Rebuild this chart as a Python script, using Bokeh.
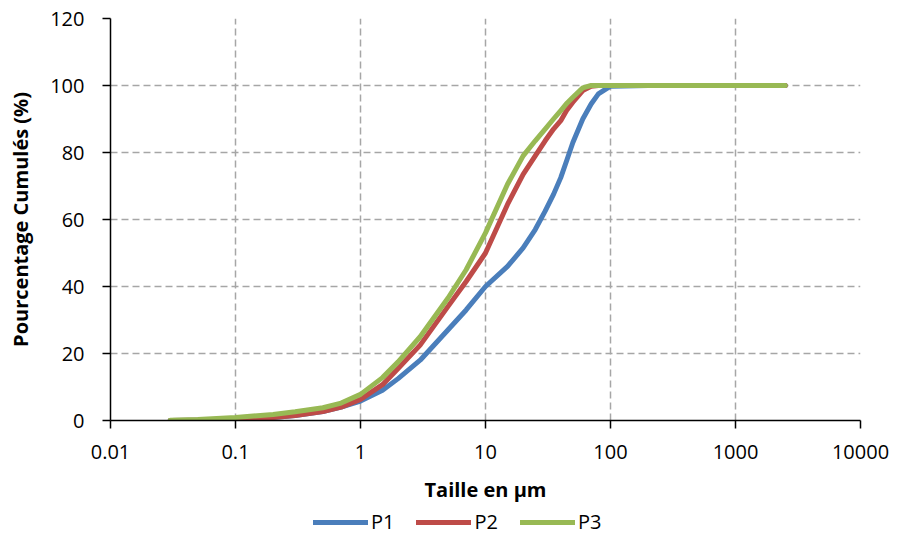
from bokeh.plotting import figure
from bokeh.models import Range1d, FixedTicker, Legend, LegendItem
from bokeh.layouts import column
from bokeh.embed import file_html
from bokeh.resources import INLINE

# Particle size (µm)
sizes = [0.03, 0.05, 0.1, 0.2, 0.3, 0.5, 0.7, 1, 1.5, 2, 3, 5, 7, 10, 15, 20, 25, 30,
         35, 40, 45, 50, 60, 70, 80, 100, 200, 500, 1000, 2500]
p1 = [0.0, 0.05, 0.3, 0.9, 1.5, 2.7, 4.0, 5.8, 9.0, 12.5, 18.0, 27.0, 33.0, 40.0, 46.0,
      51.5, 57.0, 62.5, 67.5, 72.5, 78.0, 83.0, 90.0, 94.5, 97.5, 99.8, 100, 100, 100, 100]
p2 = [0.0, 0.05, 0.3, 0.9, 1.5, 2.7, 4.0, 6.3, 10.7, 15.5, 22.5, 34.0, 41.5, 50.0, 64.5,
      73.5, 79.0, 83.5, 87.0, 89.5, 92.8, 95.0, 98.5, 99.8, 100, 100, 100, 100, 100, 100]
p3 = [0.1, 0.3, 0.9, 1.8, 2.6, 3.8, 5.2, 7.8, 12.8, 17.5, 25.0, 36.5, 45.0, 56.0, 70.5,
      79.0, 83.5, 87.0, 90.0, 92.5, 94.8, 96.5, 99.3, 100, 100, 100, 100, 100, 100, 100]

series_names = ["P1", "P2", "P3"]
series_colors = ["#4A7EBB", "#BE4B48", "#98B954"]

x_ticks = [0.01, 0.1, 1, 10, 100, 1000, 10000]
x_tick_labels = ["0.01", "0.1", "1", "10", "100", "1000", "10000"]
y_ticks = [0, 20, 40, 60, 80, 100, 120]

FONT = "Open Sans"

p = figure(width=889, height=507, x_axis_type="log",
           x_range=Range1d(0.01, 10000), y_range=Range1d(0, 120),
           output_backend="svg", toolbar_location=None,
           min_border_left=110, min_border_right=29,
           min_border_top=18, min_border_bottom=87)
p.outline_line_color = None
p.background_fill_color = "white"

for ys, c in zip([p1, p2, p3], series_colors):
    p.line(sizes, ys, line_color=c, line_width=5, line_join="round", line_cap="round")

# axes
p.xaxis.ticker = FixedTicker(ticks=x_ticks)
p.xaxis.major_label_overrides = {t: l for t, l in zip(x_ticks, x_tick_labels)}
p.yaxis.ticker = FixedTicker(ticks=y_ticks)
for ax in (p.xaxis[0], p.yaxis[0]):
    ax.axis_line_color = "black"
    ax.axis_line_width = 1.5
    ax.major_tick_line_color = "black"
    ax.major_tick_line_width = 1.5
    ax.major_tick_out = 8
    ax.major_tick_in = 0
    ax.minor_tick_line_color = None
    ax.major_label_text_font = FONT
    ax.major_label_text_font_size = "20px"
    ax.major_label_text_color = "black"
    ax.axis_label_text_font = FONT
    ax.axis_label_text_font_size = "20px"
    ax.axis_label_text_font_style = "bold"
    ax.axis_label_text_color = "black"

p.xaxis.axis_label = "Taille en µm"
p.yaxis.axis_label = "Pourcentage Cumulés (%)"
p.xaxis.major_label_standoff = 16
p.xaxis.axis_label_standoff = 14
p.yaxis.major_label_standoff = 18
p.yaxis.axis_label_standoff = 13

# grid
for g in (p.xgrid[0], p.ygrid[0]):
    g.grid_line_color = "#a6a6a6"
    g.grid_line_dash = "7 4"
    g.grid_line_width = 1.5

# legend row (separate strip below the chart)
lf = figure(width=889, height=28, x_range=Range1d(0, 1), y_range=Range1d(0, 1),
            output_backend="svg", toolbar_location=None,
            x_axis_location=None, y_axis_location=None,
            min_border=0, min_border_left=0, min_border_right=0,
            min_border_top=0, min_border_bottom=0)
lf.outline_line_color = None
lf.xgrid.visible = False
lf.ygrid.visible = False
leg_renderers = [lf.line([-5, -4], [-5, -5], line_color=c, line_width=5, line_cap="round")
                 for c in series_colors]
legend = Legend(items=[LegendItem(label=n, renderers=[r]) for n, r in zip(series_names, leg_renderers)],
                orientation="horizontal", location=(203, 0),
                glyph_width=55, glyph_height=20, label_standoff=3, spacing=22,
                padding=0, margin=0, border_line_color=None, background_fill_alpha=0,
                label_text_font=FONT, label_text_font_size="20px", label_text_color="black")
lf.add_layout(legend, "center")

open("out.html", "w").write(file_html(column(p, lf), INLINE))
